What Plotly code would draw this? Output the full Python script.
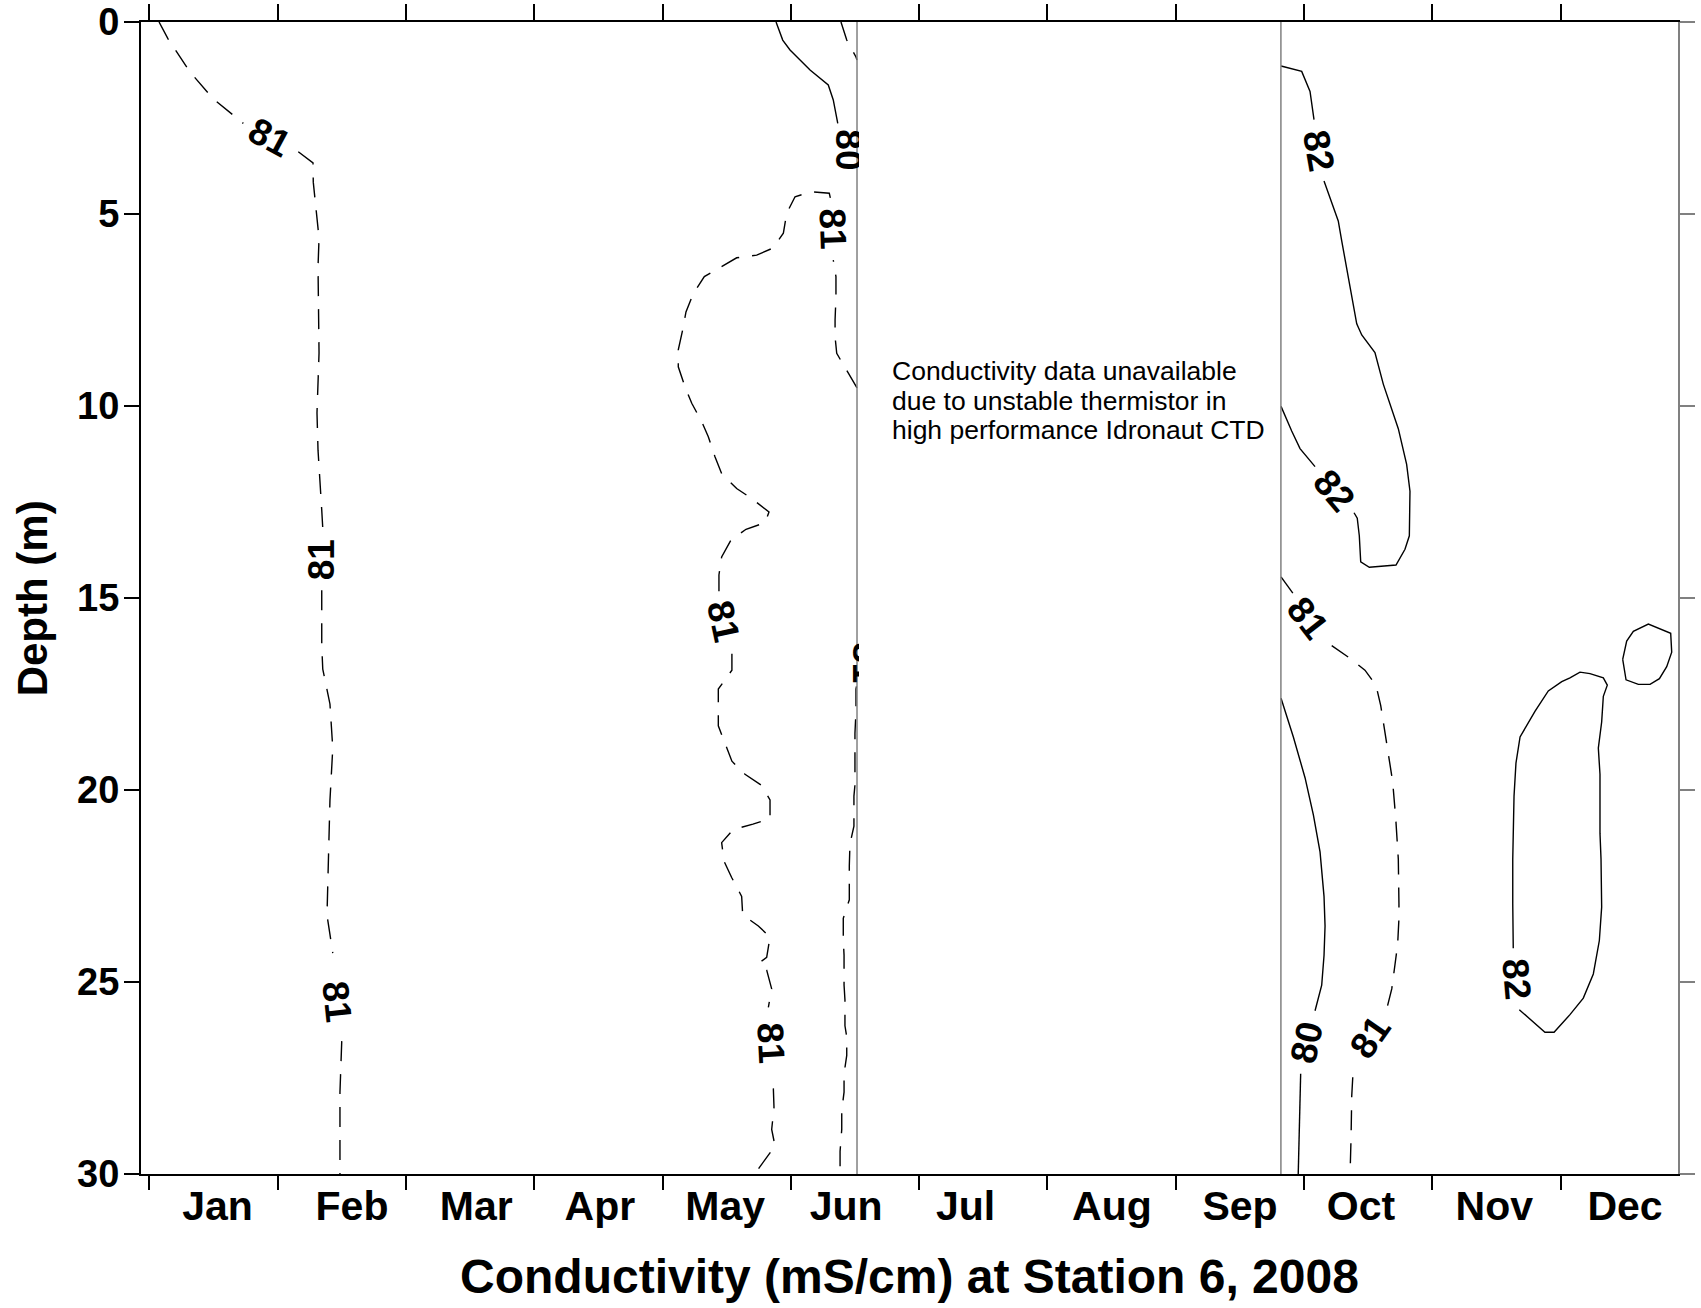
import plotly.graph_objects as go

# Horizontal coordinate: months since 1 Jan 2008 (0 = Jan 1, 1 = Feb 1, ...)
# Vertical coordinate: depth in metres
months = ["Jan", "Feb", "Mar", "Apr", "May", "Jun",
          "Jul", "Aug", "Sep", "Oct", "Nov", "Dec"]
month_starts = list(range(12))
month_label_pos = [0.532, 1.58, 2.548, 3.512, 4.489, 5.431,
                   6.362, 7.503, 8.501, 9.444, 10.483, 11.502]
depth_ticks = [0, 5, 10, 15, 20, 25, 30]

# no conductivity record between these two positions
gap_start = 5.516
gap_end = 8.82

# ---- contour lines (None breaks the line where a level label sits) ----
# 81 mS/cm, January/February
c81_jan_x = [0.076, 0.146, 0.317, 0.497, 0.733, None, 1.161, 1.276, 1.278, 1.323, 1.315,
             1.323, 1.323, 1.307, 1.315, 1.344, 1.352, None, 1.344, 1.344, 1.352, 1.408,
             1.43, 1.416, 1.408, 1.398, 1.385, 1.385, 1.408, 1.43, None, 1.5, 1.486, 1.486]
c81_jan_y = [0.0, 0.44, 1.30, 2.0, 2.64, None, 3.38, 3.67, 4.17, 5.63, 6.38,
             7.68, 8.62, 10.18, 11.15, 12.71, 13.18, None, 14.8, 16.23, 16.85, 17.76,
             18.91, 19.64, 20.27, 21.57, 22.79, 23.26, 23.76, 24.25, None, 26.54, 27.87, 30.0]

# 81 mS/cm, May/June
c81_may_x = [5.516, 5.436, 5.358, 5.345, 5.345, 5.352, 5.352, 5.331, None, 5.308, 5.3,
             5.163, 5.033, 4.968, 4.942, 4.859, 4.734, 4.578, 4.461, 4.326, 4.24, 4.183,
             4.157, 4.123, 4.123, 4.175, 4.228, 4.306, 4.357, 4.409, 4.461, 4.578, 4.695,
             4.83, 4.799, 4.651, 4.534, 4.461, 4.44, 4.44, None, 4.541, 4.541, 4.435,
             4.435, 4.435, 4.541, 4.643, 4.773, 4.838, 4.838, 4.705, 4.552, 4.461, 4.479,
             4.539, 4.617, 4.625, 4.747, 4.838, 4.812, 4.754, 4.812, 4.851, 4.825, None,
             4.864, 4.869, 4.851, 4.877, 4.825, 4.729, 4.70]
c81_may_y = [9.53, 9.06, 8.63, 8.20, 7.76, 7.16, 6.63, 6.2, None, 4.58, 4.46,
             4.42, 4.55, 4.98, 5.50, 5.89, 6.07, 6.14, 6.37, 6.63, 7.07, 7.55,
             8.02, 8.54, 8.98, 9.5, 9.93, 10.41, 10.8, 11.32, 11.76, 12.15, 12.41,
             12.76, 13.04, 13.21, 13.49, 13.93, 14.4, 14.9, None, 16.45, 16.88, 17.37,
             17.85, 18.33, 19.25, 19.59, 19.88, 20.26, 20.74, 20.89, 21.03, 21.37, 21.85,
             22.28, 22.77, 23.25, 23.54, 23.83, 24.36, 24.5, 24.69, 25.18, 25.66, None,
             27.77, 28.26, 28.84, 29.27, 29.51, 29.95, 30.0]

# 81 mS/cm, early June (lower half)
c81_jun_x = [5.512, 5.508, 5.508, 5.5, 5.5, 5.492, 5.492, 5.461, 5.456, 5.456, 5.409, 5.409,
             5.415, 5.415, 5.422, 5.422, 5.436, 5.436, 5.415, 5.415, 5.397, 5.397, 5.384, 5.384]
c81_jun_y = [17.3, 17.37, 17.95, 18.52, 19.87, 20.16, 20.94, 21.41, 21.98, 22.86, 23.34, 23.91,
             24.3, 25.08, 25.46, 26.14, 26.43, 26.91, 27.39, 27.87, 28.35, 28.84, 29.41, 30.0]

# 80 mS/cm, surface in late May
c80_may_x = [4.885, 4.937, 4.994, 5.15, 5.292, 5.331, 5.366]
c80_may_y = [0.0, 0.47, 0.73, 1.25, 1.64, 2.03, 2.64]

# 79 mS/cm, surface in early June
c79_jun_x = [5.391, 5.436, 5.508, 5.516]
c79_jun_y = [0.0, 0.47, 0.91, 0.99]

# 82 mS/cm, October (upper)
c82_oct_x = [8.821, 8.982, 9.047, 9.078, None, 9.156, 9.267, 9.294, 9.411, 9.45, 9.553,
             9.618, 9.735, 9.8, 9.826, 9.821, 9.787, 9.717, 9.509, 9.442, 9.431, 9.415,
             9.39, None, 9.086, 8.969, 8.904, 8.821]
c82_oct_y = [1.146, 1.287, 1.81, 2.54, None, 4.14, 5.18, 5.70, 7.86, 8.15, 8.61,
             9.43, 10.59, 11.52, 12.22, 13.38, 13.73, 14.14, 14.2, 14.06, 13.38, 12.92,
             12.78, None, 11.58, 11.11, 10.65, 10.01]

# 81 mS/cm, October
c81_oct_x = [8.821, 8.917, None, 9.216, 9.345, 9.475, 9.561, 9.598, 9.645, 9.691, 9.715,
             9.735, 9.74, 9.74, 9.73, 9.701, 9.684, 9.645, None, 9.38, 9.372, 9.367, 9.359]
c81_oct_y = [14.45, 14.89, None, 16.24, 16.54, 16.88, 17.27, 17.8, 18.81, 19.78, 20.74,
             21.8, 22.95, 23.34, 24.02, 24.69, 25.18, 25.7, None, 27.48, 27.97, 29.02, 30.0]

# 80 mS/cm, October
c80_oct_x = [8.821, 8.917, 9.008, 9.073, 9.125, 9.156, 9.164, 9.156, 9.138, 9.086, None,
             8.974, 8.963, 8.955]
c80_oct_y = [17.61, 18.62, 19.68, 20.65, 21.61, 22.77, 23.54, 24.31, 25.08, 25.75, None,
             27.39, 28.55, 30.0]

# 82 mS/cm, November/December
c82_nov_x = [10.678, 10.878, 10.949, 11.073, 11.177, 11.255, 11.302, 11.32, 11.315, 11.307,
             11.307, 11.294, 11.32, 11.333, 11.364, 11.333, 11.229, 11.151, 11.073, 11.009,
             10.904, 10.8, 10.684, 10.652, 10.637, 10.627, 10.627, 10.631]
c82_nov_y = [25.72, 26.31, 26.31, 25.85, 25.42, 24.79, 23.92, 23.05, 21.8, 21.13,
             19.59, 18.91, 18.23, 17.56, 17.27, 17.08, 16.97, 16.93, 17.08, 17.18,
             17.42, 17.95, 18.62, 19.3, 20.16, 21.8, 22.96, 24.12]

# 82 mS/cm, small cell in December
c82_dec_x = [11.484, 11.515, 11.567, 11.684, 11.858, 11.866, 11.827, 11.77, 11.697, 11.606,
             11.51, 11.484]
c82_dec_y = [16.6, 16.12, 15.87, 15.68, 15.92, 16.41, 16.79, 17.1, 17.25, 17.25,
             17.13, 16.6]

contours = [
    (81, c81_jan_x, c81_jan_y),
    (81, c81_may_x, c81_may_y),
    (81, c81_jun_x, c81_jun_y),
    (80, c80_may_x, c80_may_y),
    (79, c79_jun_x, c79_jun_y),
    (82, c82_oct_x, c82_oct_y),
    (81, c81_oct_x, c81_oct_y),
    (80, c80_oct_x, c80_oct_y),
    (82, c82_nov_x, c82_nov_y),
    (82, c82_dec_x, c82_dec_y),
]

# level labels: value, month position, depth, rotation (degrees clockwise)
label_value = [81, 81, 81, 80, 81, 81, 81, 81, 82, 82, 81, 81, 80, 82]
label_x = [0.94, 1.344, 1.464, 5.45, 5.329, 4.471, 4.845, 5.586, 9.112, 9.235, 9.031, 9.515, 9.021, 10.658]
label_y = [3.01, 14.0, 25.5, 3.33, 5.37, 15.62, 26.6, 16.7, 3.35, 12.19, 15.53, 26.45, 26.57, 24.93]
label_angle = [28, -90, 84, 90, 88, 78, 87, 90, 80, 50, 52, -55, -78, 85]

note_lines = ["Conductivity data unavailable",
              "due to unstable thermistor in",
              "high performance Idronaut CTD"]
note_depths = [9.09, 9.86, 10.63]
note_x = 5.77

FONT = "Liberation Sans, Arial, Helvetica, sans-serif"

fig = go.Figure()

for level, xs, ys in contours:
    fig.add_trace(go.Scatter(
        x=xs, y=ys, mode="lines", showlegend=False, hoverinfo="skip",
        line=dict(color="black", width=1.4,
                  dash="20px,13px" if level % 2 else "solid"),
        connectgaps=False,
    ))

# carriers for the mirrored top and right axes
fig.add_trace(go.Scatter(x=[None], y=[None], xaxis="x2", yaxis="y",
                         showlegend=False, hoverinfo="skip"))
fig.add_trace(go.Scatter(x=[None], y=[None], xaxis="x", yaxis="y2",
                         showlegend=False, hoverinfo="skip"))

annotations = []
for v, x, y, a in zip(label_value, label_x, label_y, label_angle):
    annotations.append(dict(
        x=x, y=y, xref="x", yref="y", text=str(v), showarrow=False,
        textangle=a, xanchor="center", yanchor="middle",
        font=dict(family=FONT, size=37, color="black", weight="bold"),
    ))

# blank panel over the period without data
x_px_per_month = 1537 / (11.915 + 0.0647)
annotations.append(dict(
    x=(gap_start + gap_end) / 2, y=15, xref="x", yref="y", text=" ",
    showarrow=False, bgcolor="white", borderwidth=0, borderpad=0,
    width=int((gap_end - gap_start) * x_px_per_month) - 3, height=1144,
    xanchor="center", yanchor="middle",
))

for line, d in zip(note_lines, note_depths):
    annotations.append(dict(
        x=note_x, y=d, xref="x", yref="y", text=line, showarrow=False,
        xanchor="left", yanchor="middle",
        font=dict(family=FONT, size=26.5, color="black"),
    ))

annotations.append(dict(
    x=0.5, y=-0.0893, xref="paper", yref="paper",
    text="Conductivity (mS/cm) at Station 6, 2008", showarrow=False,
    xanchor="center", yanchor="middle",
    font=dict(family=FONT, size=48, color="black", weight="bold"),
))
annotations.append(dict(
    x=-0.0707, y=0.5, xref="paper", yref="paper", text="Depth (m)",
    showarrow=False, textangle=-90, xanchor="center", yanchor="middle",
    font=dict(family=FONT, size=42, color="black", weight="bold"),
))

shapes = [
    dict(type="line", xref="x", yref="y", x0=gx, x1=gx, y0=0, y1=30,
         line=dict(color="#808080", width=1.5), layer="above")
    for gx in (gap_start, gap_end)
]

xr = [-0.0647, 11.915]
yr = [30, 0]

fig.update_layout(
    width=1701, height=1308,
    margin=dict(l=141, r=23, t=22, b=134, autoexpand=False),
    paper_bgcolor="white", plot_bgcolor="white",
    showlegend=False,
    annotations=annotations,
    shapes=shapes,
    xaxis=dict(
        range=xr, tickmode="array", tickvals=month_label_pos, ticktext=months,
        ticks="", showline=True, linecolor="black", linewidth=2, automargin=False,
        showgrid=False, zeroline=False, ticklabelstandoff=-5,
        tickfont=dict(family=FONT, size=41, color="black", weight="bold"),
        minor=dict(tickmode="array", tickvals=month_starts, ticks="outside",
                   ticklen=14, tickwidth=1.5, tickcolor="black", showgrid=False),
    ),
    xaxis2=dict(
        range=xr, overlaying="x", side="top", tickmode="array", automargin=False,
        tickvals=month_starts, ticks="outside", ticklen=16, tickwidth=1.5,
        tickcolor="black", showticklabels=False, showline=True,
        linecolor="black", linewidth=2, showgrid=False, zeroline=False,
    ),
    yaxis=dict(
        range=yr, tickmode="array", tickvals=depth_ticks, ticks="outside",
        ticklen=15, tickwidth=1.5, tickcolor="black", showline=True, automargin=False,
        linecolor="black", linewidth=2, showgrid=False, zeroline=False,
        ticklabelstandoff=-3,
        tickfont=dict(family=FONT, size=38, color="black", weight="bold"),
    ),
    yaxis2=dict(
        range=yr, overlaying="y", side="right", tickmode="array", automargin=False,
        tickvals=depth_ticks, ticks="outside", ticklen=15, tickwidth=1.5,
        tickcolor="#808080", showticklabels=False, showline=True,
        linecolor="#808080", linewidth=1.5, showgrid=False, zeroline=False,
    ),
)

fig.write_html("out.html")
